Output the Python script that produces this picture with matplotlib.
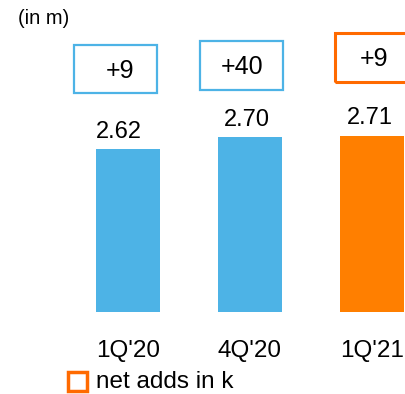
import matplotlib.pyplot as plt
from matplotlib.patches import Rectangle

plt.rcParams["font.family"] = ["Liberation Sans", "DejaVu Sans"]

# subscribers (in m) and net adds (in k) per quarter
quarters = ["1Q'20", "4Q'20", "1Q'21"]
subscribers = [2.62, 2.70, 2.71]
net_adds = [9, 40, 9]

BLUE = "#4db3e6"
ORANGE = "#ff7f00"
ORANGE_EDGE = "#ff6a00"
bar_colors = [BLUE, BLUE, ORANGE]
box_colors = [BLUE, BLUE, ORANGE_EDGE]

W, H = 406, 394
fig = plt.figure(figsize=(W / 100, H / 100), dpi=100)

# bar axes: baseline sits 82 px above the bottom edge, axis truncated
base_px = 312
px_per_unit = 150
ymin = 2.62 - 163 / px_per_unit
ax = fig.add_axes([0, (H - base_px) / H, 1, base_px / H])
ax.set_ylim(ymin, ymin + base_px / px_per_unit)
step = 122
ax.set_xlim(-128 / step, -128 / step + W / step)
x = range(len(quarters))
ax.bar(x, subscribers, width=64 / step, color=bar_colors, bottom=0)
for s in ax.spines.values():
    s.set_visible(False)
ax.set_yticks([])
ax.set_xticks(list(x))
ax.set_xticklabels(quarters, fontsize=17.5)
ax.tick_params(axis="x", length=0, pad=20)

# value labels above bars
label_dx = [-9, -3, -2]
for i, v in enumerate(subscribers):
    ax.annotate(f"{v:.2f}", (i, v), xytext=(label_dx[i] * 0.72, 4.5),
                textcoords="offset points", ha="center", va="bottom",
                fontsize=17)

# net-adds boxes (figure pixel coordinates, y from top)
boxes = [(74, 45, 83, 48), (200, 41, 83, 49), (335, 33, 80, 49)]
text_dx = [46, 42, 39]
for (bx, by, bw, bh), n, c, dx in zip(boxes, net_adds, box_colors, text_dx):
    lw = 2.2 if c == ORANGE_EDGE else 1.6
    fig.patches.append(Rectangle((bx / W, 1 - (by + bh) / H), bw / W, bh / H,
                                 transform=fig.transFigure, fill=False,
                                 edgecolor=c, linewidth=lw))
    fig.text((bx + dx) / W, 1 - (by + bh / 2 + 1.5) / H, f"+{n}",
             ha="center", va="center", fontsize=18)

fig.text(18 / W, 1 - 19 / H, "(in m)", ha="left", va="center", fontsize=14.5)

# legend key
fig.patches.append(Rectangle((68 / W, 1 - 391 / H), 19 / W, 19 / H,
                             transform=fig.transFigure, fill=False,
                             edgecolor=ORANGE_EDGE, linewidth=2.5))
fig.text(96 / W, 1 - 382 / H, "net adds in k", ha="left", va="center",
         fontsize=17.5)

fig.savefig("out.png", dpi=100)
